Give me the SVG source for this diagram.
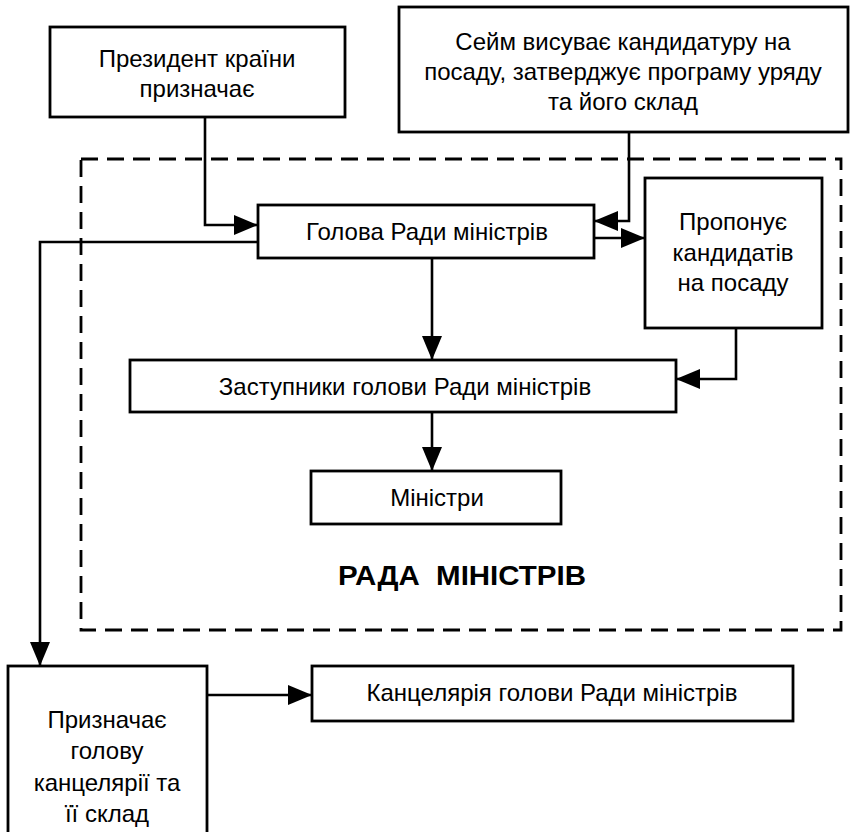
<svg xmlns="http://www.w3.org/2000/svg" width="851" height="832" viewBox="0 0 851 832">
<defs>
<marker id="ah" markerWidth="24" markerHeight="20" refX="24" refY="10" orient="auto" markerUnits="userSpaceOnUse">
<path d="M0,0 L24,10 L0,20 Z" fill="#000"/>
</marker>
<style>
.box{fill:#fff;stroke:#000;stroke-width:2.8}
.t{font-family:"Liberation Sans",Arial,sans-serif;font-size:24px;text-anchor:middle;fill:#000}
.c{fill:none;stroke:#000;stroke-width:2.6;marker-end:url(#ah)}
.dash{fill:none;stroke:#000;stroke-width:2.8;stroke-dasharray:17 9}
</style>
</defs>
<rect width="851" height="832" fill="#fff"/>
<g id="rada">
<rect class="dash" x="81" y="159" width="760" height="471"/>
<text class="t" x="462" y="585" xml:space="preserve" textLength="248" lengthAdjust="spacingAndGlyphs" style="font-weight:bold;font-size:27px">РАДА  МІНІСТРІВ</text>
</g>
<g id="connectors">
<path class="c" d="M205,117 V225 H258"/>
<path class="c" d="M629,132 V221 H594"/>
<path class="c" d="M594,238 H645"/>
<path class="c" d="M258,242 H40 V666"/>
<path class="c" d="M432,258 V360"/>
<path class="c" d="M736,328 V379 H676"/>
<path class="c" d="M432,412 V471"/>
<path class="c" d="M207,695 H312"/>
</g>
<g id="president">
<rect class="box" x="50" y="27" width="295" height="90"/>
<text class="t" x="197" y="67">Президент країни</text>
<text class="t" x="197" y="97">призначає</text>
</g>
<g id="seim">
<rect class="box" x="399" y="7" width="449" height="125"/>
<text class="t" x="623" y="50">Сейм висуває кандидатуру на</text>
<text class="t" x="623" y="80">посаду, затверджує програму уряду</text>
<text class="t" x="623" y="110">та його склад</text>
</g>
<g id="holova">
<rect class="box" x="258" y="205" width="336" height="53"/>
<text class="t" x="427" y="240">Голова Ради міністрів</text>
</g>
<g id="proponuie">
<rect class="box" x="645" y="178" width="177" height="150"/>
<text class="t" x="733" y="230">Пропонує</text>
<text class="t" x="733" y="261">кандидатів</text>
<text class="t" x="733" y="291">на посаду</text>
</g>
<g id="zastupnyky">
<rect class="box" x="130" y="360" width="546" height="52"/>
<text class="t" x="405" y="395">Заступники голови Ради міністрів</text>
</g>
<g id="ministry">
<rect class="box" x="311" y="471" width="250" height="53"/>
<text class="t" x="437" y="506">Міністри</text>
</g>
<g id="pryznachaie">
<rect class="box" x="8" y="666" width="199" height="170"/>
<text class="t" x="107" y="728">Призначає</text>
<text class="t" x="107" y="759">голову</text>
<text class="t" x="107" y="791">канцелярії та</text>
<text class="t" x="107" y="822">її склад</text>
</g>
<g id="kantselyariia">
<rect class="box" x="312" y="666" width="481" height="55"/>
<text class="t" x="552" y="701">Канцелярія голови Ради міністрів</text>
</g>
</svg>
